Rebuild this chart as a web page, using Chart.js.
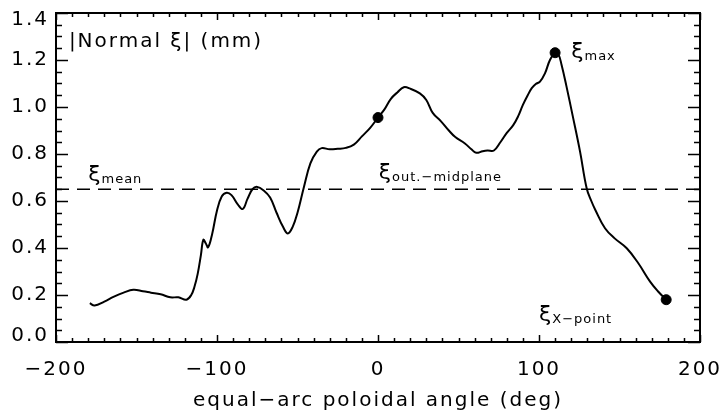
<!DOCTYPE html>
<html>
<head>
<meta charset="utf-8">
<script src="https://cdn.jsdelivr.net/npm/chart.js@4.4.1/dist/chart.umd.min.js"></script>
<style>
  body { margin: 0; background: #fff; }
  #wrap { width: 722px; height: 412px; }
</style>
</head>
<body>
<div id="wrap"><canvas id="myChart"></canvas></div>
<script>
// |normal xi| along the equal-arc poloidal angle
const angles = [
  -179, -176, -170, -164, -158, -152, -146, -141, -135, -129, -124, -119,
  -116, -114, -112, -110, -108.5, -107, -105.5, -103, -100, -97, -94, -91,
  -87, -84, -81, -78, -75, -71, -67, -63, -59, -56, -53, -50, -46, -42,
  -38, -35, -30, -25, -20, -15, -10, -5, 0, 4, 8, 12, 16, 20, 26, 30, 34,
  39, 44, 48, 54, 58, 61, 65, 68, 72, 76, 80, 84, 87, 90, 93, 95.5, 98, 100.6,
  103.7, 106.8, 110, 112, 114, 117, 121, 125.5, 129.6, 132.5, 135, 141, 147,
  154.5, 161.7, 169, 174, 179
];
const xiNormal = [
  0.165, 0.155, 0.172, 0.193, 0.21, 0.222, 0.216, 0.21, 0.203, 0.19, 0.19, 0.18,
  0.2, 0.235, 0.29, 0.37, 0.435, 0.42, 0.403, 0.46, 0.56, 0.62, 0.635, 0.625,
  0.585, 0.566, 0.61, 0.65, 0.66, 0.645, 0.615, 0.55, 0.49, 0.462, 0.49, 0.55, 0.66, 0.76,
  0.81, 0.825, 0.82, 0.822, 0.826, 0.84, 0.875, 0.91, 0.955, 0.99, 1.035, 1.062, 1.084, 1.078, 1.058, 1.03, 0.975,
  0.94, 0.9, 0.872, 0.845, 0.82, 0.805, 0.812, 0.815, 0.815, 0.85, 0.89, 0.923, 0.96, 1.009, 1.05, 1.08, 1.098, 1.108,
  1.143, 1.2, 1.231, 1.225, 1.18, 1.09, 0.96, 0.81, 0.654, 0.6, 0.562, 0.484, 0.441,
  0.399, 0.335, 0.257, 0.215, 0.18
];
const xiMean = 0.65;

// outboard midplane, maximum, X-point
const markAngles = [0, 110, 179];
const markValues = [0.955, 1.231, 0.18];

const xTicks = [-200, -100, 0, 100, 200];
const yTicks = [0.0, 0.2, 0.4, 0.6, 0.8, 1.0, 1.2, 1.4];

const FONT = "'DejaVu Sans', sans-serif";
Chart.defaults.font.family = FONT;
Chart.defaults.font.size = 20;
Chart.defaults.color = '#000';

// labels placed in data coordinates: [main, subscript, angle, value]
const labels = [
  ['ξ', 'mean', -180, 0.681],
  ['ξ', 'out.−midplane', 0.5, 0.689],
  ['ξ', 'max', 120, 1.204],
  ['ξ', 'X−point', 100, 0.085]
];

const spacing = {
  id: 'spacing',
  beforeDraw(chart) { chart.ctx.letterSpacing = '2px'; }
};

const frame = {
  id: 'frame',
  afterDraw(chart) {
    const { ctx, chartArea: a, scales: { x, y } } = chart;
    ctx.save();
    ctx.strokeStyle = '#000';
    ctx.lineWidth = 2;
    ctx.strokeRect(a.left, a.top, a.right - a.left, a.bottom - a.top);
    ctx.lineWidth = 1.5;
    ctx.beginPath();
    for (let d = -200; d <= 200; d += 10) {
      const px = Math.round(x.getPixelForValue(d)) + 0.5;
      const len = d % 100 === 0 ? 7 : 4;
      ctx.moveTo(px, a.bottom); ctx.lineTo(px, a.bottom - len);
      ctx.moveTo(px, a.top); ctx.lineTo(px, a.top + len);
    }
    for (let i = 0; i <= 28; i++) {
      const py = Math.round(y.getPixelForValue(i * 0.05)) + 0.5;
      const len = i % 4 === 0 ? 12 : 6;
      ctx.moveTo(a.left, py); ctx.lineTo(a.left + len, py);
      ctx.moveTo(a.right, py); ctx.lineTo(a.right - len, py);
    }
    ctx.stroke();

    ctx.fillStyle = '#000';
    ctx.letterSpacing = '2px';
    ctx.font = '20px ' + FONT;

    // end labels of the y axis sit inside the axis range
    ctx.textAlign = 'right';
    ctx.textBaseline = 'middle';
    const first = yTicks[0], last = yTicks[yTicks.length - 1];
    ctx.fillText(first.toFixed(1), a.left - 7, y.getPixelForValue(first) - 6);
    ctx.fillText(last.toFixed(1), a.left - 7, y.getPixelForValue(last) + 7);

    // axis quantity in the upper left corner
    ctx.textBaseline = 'alphabetic';
    ctx.textAlign = 'left';
    ctx.fillText('|Normal ξ| (mm)', x.getPixelForValue(-192), y.getPixelForValue(1.255));

    for (const [main, sub, ax, av] of labels) {
      const px = x.getPixelForValue(ax);
      const py = y.getPixelForValue(av);
      ctx.letterSpacing = '0px';
      ctx.font = '22px ' + FONT;
      ctx.fillText(main, px, py - 1);
      const w = ctx.measureText(main).width;
      ctx.letterSpacing = '1px';
      ctx.font = '13px ' + FONT;
      ctx.fillText(sub, px + w + 1, py + 1);
    }
    ctx.restore();
  }
};

const minus = v => String(v).replace('-', '−');
const noPad = s => { s.paddingLeft = 0; s.paddingRight = 0; s.paddingTop = 0; s.paddingBottom = 0; };

new Chart(document.getElementById('myChart'), {
  type: 'line',
  data: {
    datasets: [
      {
        data: angles.map((a, i) => ({ x: a, y: xiNormal[i] })),
        borderColor: '#000',
        borderWidth: 2,
        pointRadius: 0,
        tension: 0.4
      },
      {
        data: [{ x: -200, y: xiMean }, { x: 200, y: xiMean }],
        borderColor: '#000',
        borderWidth: 1.5,
        borderDash: [13, 8],
        pointRadius: 0
      },
      {
        data: markAngles.map((a, i) => ({ x: a, y: markValues[i] })),
        showLine: false,
        pointRadius: 5,
        pointBackgroundColor: '#000',
        pointBorderColor: '#000'
      }
    ]
  },
  options: {
    responsive: true,
    maintainAspectRatio: false,
    animation: false,
    layout: { padding: { top: 13, right: 22, left: 0, bottom: 0 } },
    plugins: { legend: { display: false }, tooltip: { enabled: false } },
    scales: {
      x: {
        type: 'linear',
        min: -200,
        max: 200,
        afterBuildTicks: s => { s.ticks = xTicks.map(v => ({ value: v })); },
        afterFit: s => { s.height = 70; noPad(s); },
        grid: { display: false, drawTicks: false },
        border: { display: false },
        ticks: { autoSkip: false, maxRotation: 0, padding: 16, callback: v => minus(v) },
        title: {
          display: true,
          text: 'equal−arc poloidal angle (deg)',
          font: { size: 20, lineHeight: 1 },
          padding: { top: 0, bottom: 1 }
        }
      },
      y: {
        type: 'linear',
        min: 0,
        max: 1.4,
        afterBuildTicks: s => { s.ticks = yTicks.map(v => ({ value: v })); },
        afterFit: s => { s.width = 56; noPad(s); },
        grid: { display: false, drawTicks: false },
        border: { display: false },
        ticks: {
          autoSkip: false,
          padding: 7,
          callback: v => (v === yTicks[0] || v === yTicks[yTicks.length - 1]) ? '' : v.toFixed(1)
        }
      }
    }
  },
  plugins: [spacing, frame]
});
</script>
</body>
</html>
